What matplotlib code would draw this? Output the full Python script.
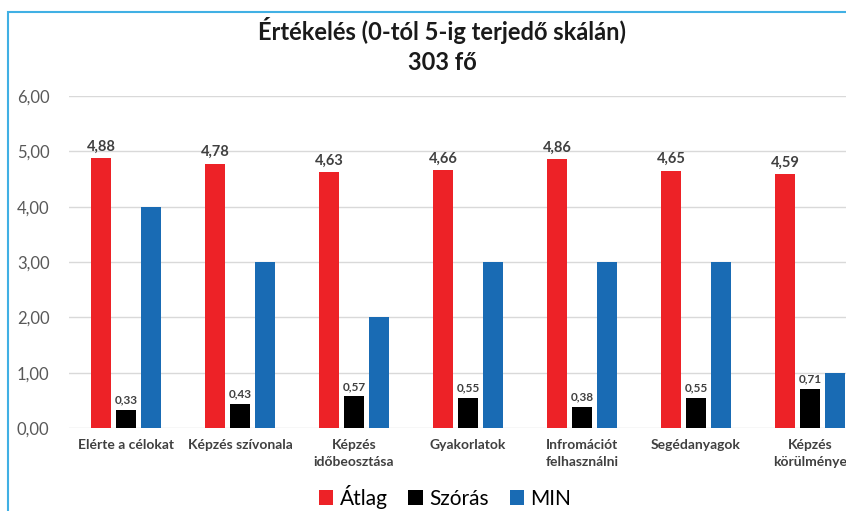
import matplotlib.pyplot as plt
import matplotlib.patches as mpatches
import numpy as np

categories = ["Elérte a célokat", "Képzés szívonala", "Képzés\nidőbeosztása",
              "Gyakorlatok", "Infromációt\nfelhasználni", "Segédanyagok",
              "Képzés\nkörülménye"]
atlag = [4.88, 4.78, 4.63, 4.66, 4.86, 4.65, 4.59]
szoras = [0.33, 0.43, 0.57, 0.55, 0.38, 0.55, 0.71]
minimum = [4, 3, 2, 3, 3, 3, 1]

plt.rcParams['font.family'] = ['Lato', 'DejaVu Sans']

fig = plt.figure(figsize=(8.46, 5.11), dpi=100)
W, H = 846, 511
# axes extends past right edge (chart is cropped in the reference)
left, right, bottom, top = 69, 867, 428, 96
ax = fig.add_axes([left / W, (H - bottom) / H, (right - left) / W, (bottom - top) / H])

x = np.arange(len(categories))
w = 0.175
step = 0.22
b1 = ax.bar(x - step, atlag, w, color="#ED2227", label="Átlag")
b2 = ax.bar(x, szoras, w, color="#000000", label="Szórás")
b3 = ax.bar(x + step, minimum, w, color="#196BB4", label="MIN")

for rect, v in zip(b1, atlag):
    ax.text(rect.get_x() + rect.get_width() / 2, v + 0.08, f"{v:.2f}".replace(".", ","),
            ha="center", va="bottom", fontsize=10.5, fontweight="bold", color="#404040")
for rect, v in zip(b2, szoras):
    ax.text(rect.get_x() + rect.get_width() / 2, v + 0.08, f"{v:.2f}".replace(".", ","),
            ha="center", va="bottom", fontsize=8.5, fontweight="bold", color="#404040")

ax.set_xlim(-0.5, len(categories) - 0.5)
ax.set_ylim(0, 6)
ax.set_yticks(np.arange(0, 7, 1))
ax.set_yticklabels([f"{v:.2f}".replace(".", ",") for v in np.arange(0, 7, 1)],
                   fontsize=12, color="#595959")
ax.set_xticks(x)
ax.set_xticklabels(categories, fontsize=10, fontweight="bold", color="#404040",
                   linespacing=1.5)
ax.tick_params(length=0, pad=8)
ax.tick_params(axis="y", pad=14)
ax.grid(axis="y", color="#D9D9D9", linewidth=1)
ax.set_axisbelow(True)
for s in ax.spines.values():
    s.set_visible(False)

fig.text(442 / W, 1 - 30 / H, "Értékelés (0-tól 5-ig terjedő skálán)", ha="center",
         va="center", fontsize=17, fontweight="bold", color="#1a1a1a")
fig.text(442 / W, 1 - 62 / H, "303 fő", ha="center", va="center", fontsize=17,
         fontweight="bold", color="#1a1a1a")

fig.legend(handles=[b1, b2, b3], loc="center", bbox_to_anchor=(445 / W, 1 - 497 / H),
           ncol=3, frameon=False, fontsize=15, handlelength=0.7, handleheight=0.7,
           handletextpad=0.3, columnspacing=1.0)

# light blue chart frame
frame = mpatches.Rectangle((8 / W, -0.1), 1.2, 1 - 12 / H + 0.1, transform=fig.transFigure,
                           fill=False, edgecolor="#41B0E4", linewidth=1.5)
fig.patches.append(frame)

fig.savefig("out.png", dpi=100)
